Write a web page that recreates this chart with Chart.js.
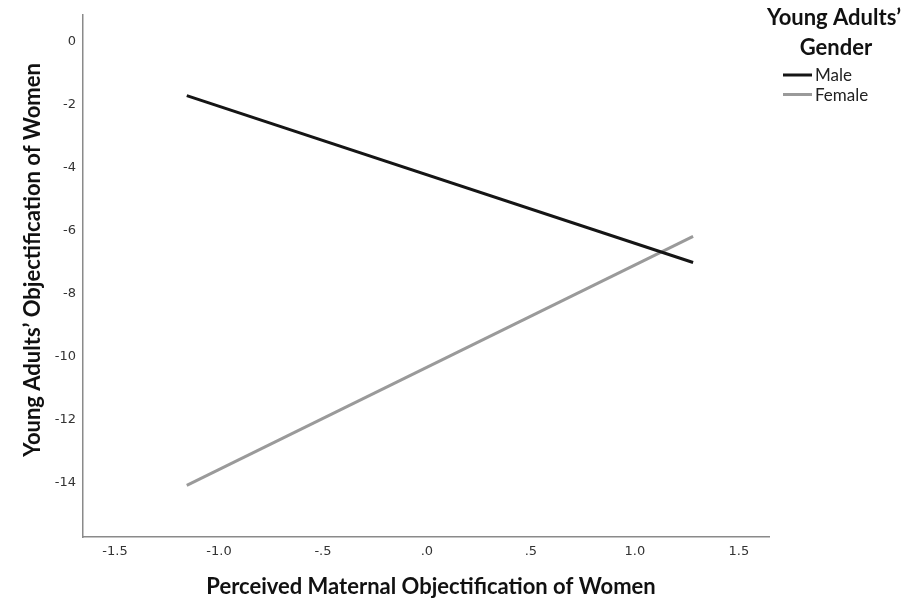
<!DOCTYPE html>
<html>
<head>
<meta charset="utf-8">
<script src="https://cdn.jsdelivr.net/npm/chart.js@4/dist/chart.umd.min.js"></script>
<style>
  html, body { margin: 0; padding: 0; background: #fff; }
  #wrap { width: 905px; height: 602px; position: relative; }
</style>
</head>
<body>
<div id="wrap"><canvas id="c" width="905" height="602"></canvas></div>
<script>
// Predictor values (low / high) and predicted outcome per gender
const predictorX = [-1.155, 1.28];
const maleValues = [-1.72, -7.02];
const femaleValues = [-14.10, -6.19];

const xTicks = [-1.5, -1.0, -0.5, 0, 0.5, 1.0, 1.5];
const yTicks = [0, -2, -4, -6, -8, -10, -12, -14];

const legendTitle = ['Young Adults\u2019', 'Gender'];
const xTitle = 'Perceived Maternal Objectification of Women';
const yTitle = 'Young Adults\u2019 Objectification of Women';

const titleFont = 'bold 22px Lato, "Open Sans", sans-serif';

function fmtX(v) {
  if (Math.abs(v) < 1e-9) return '.0';
  let s = Math.abs(v).toFixed(1);
  if (s.startsWith('0')) s = s.slice(1);
  return (v < 0 ? '-' : '') + s;
}

function pts(xs, ys) { return xs.map((x, i) => ({ x: x, y: ys[i] })); }

// Axis titles and the gender legend, drawn around the plot area
const annotations = {
  id: 'annotations',
  afterDraw(chart) {
    const ctx = chart.ctx;
    ctx.save();
    ctx.fillStyle = '#111';
    ctx.textAlign = 'center';
    ctx.textBaseline = 'middle';
    ctx.font = titleFont;

    // axis titles
    ctx.fillText(xTitle, 431, 587);
    ctx.save();
    ctx.translate(33, 260);
    ctx.rotate(-Math.PI / 2);
    ctx.fillText(yTitle, 0, 0);
    ctx.restore();

    // legend
    ctx.fillText(legendTitle[0], 834, 18);
    ctx.fillText(legendTitle[1], 836, 48);
    ctx.font = '17px Lato, "Open Sans", sans-serif';
    ctx.textAlign = 'left';
    chart.data.datasets.forEach((ds, i) => {
      const y = 75 + i * 19.5;
      ctx.strokeStyle = ds.borderColor;
      ctx.lineWidth = 3;
      ctx.beginPath();
      ctx.moveTo(783, y);
      ctx.lineTo(812, y);
      ctx.stroke();
      ctx.fillStyle = '#222';
      ctx.fillText(ds.label, 815, y + 1);
    });
    ctx.restore();
  }
};

new Chart(document.getElementById('c'), {
  type: 'line',
  data: {
    datasets: [
      { label: 'Male', data: pts(predictorX, maleValues), borderColor: '#151515', borderWidth: 3, pointRadius: 0, tension: 0 },
      { label: 'Female', data: pts(predictorX, femaleValues), borderColor: '#9a9a9a', borderWidth: 3, pointRadius: 0, tension: 0 }
    ]
  },
  options: {
    responsive: false,
    animation: false,
    layout: { padding: { top: 12, right: 136, left: 0, bottom: 0 } },
    plugins: { legend: { display: false }, tooltip: { enabled: false } },
    scales: {
      x: {
        type: 'linear',
        min: -1.654,
        max: 1.645,
        grid: { display: false, drawTicks: false },
        border: { display: true, color: '#8a8a8a', width: 1.5 },
        afterBuildTicks(scale) { scale.ticks = xTicks.map(v => ({ value: v })); },
        afterFit(scale) { scale.height = 65; },
        ticks: {
          padding: 7,
          color: '#333',
          font: { family: '"DejaVu Sans", sans-serif', size: 13 },
          callback: (v) => fmtX(v)
        }
      },
      y: {
        type: 'linear',
        min: -15.74,
        max: 0.85,
        grid: { display: false, drawTicks: false },
        border: { display: true, color: '#8a8a8a', width: 1.5 },
        afterBuildTicks(scale) { scale.ticks = yTicks.map(v => ({ value: v })); },
        afterFit(scale) { scale.width = 83; },
        ticks: {
          padding: 7,
          color: '#333',
          font: { family: '"DejaVu Sans", sans-serif', size: 13 },
          callback: (v) => String(v)
        }
      }
    }
  },
  plugins: [annotations]
});
</script>
</body>
</html>
